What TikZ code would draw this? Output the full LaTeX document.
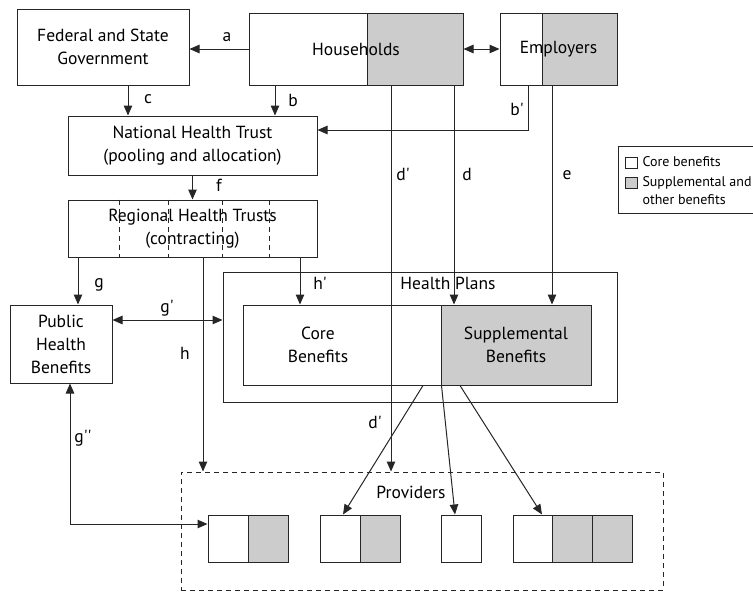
\documentclass[tikz,border=0pt]{standalone}
\usepackage{fontspec}
\setmainfont{PT Sans}
\usetikzlibrary{arrows.meta}
\newcommand{\pr}{\textquotesingle}

\begin{document}
\begin{tikzpicture}[x=1pt,y=-1pt,
  line width=1pt, draw=black!85,
  box/.style={draw, rectangle, inner sep=0pt, align=center,
    font=\fontsize{17.5}{23}\selectfont},
  shaded/.style={fill=black!20},
  cell/.style={draw, rectangle, minimum width=40, minimum height=47},
  lbl/.style={font=\fontsize{17.5}{23}\selectfont, inner sep=0pt},
  legtext/.style={font=\fontsize{14}{18}\selectfont, align=left, inner sep=0pt, anchor=west},
  arr/.style={-{Triangle[length=10pt,width=8.5pt]}},
  arrtwo/.style={{Triangle[length=10pt,width=8.5pt]}-{Triangle[length=10pt,width=8.5pt]}}]
\useasboundingbox (0,0) rectangle (753,592);
\clip (0,0) rectangle (753,592);

% Top row
\node[box, minimum width=172, minimum height=76] (fed) at (103,47) {Federal and State\\Government};
\node[box, shaded, minimum width=96, minimum height=72] (hhs) at (415,49) {};
\node[box, minimum width=214, minimum height=72] (hh) at (356,49) {Households};
\node[box, shaded, minimum width=75, minimum height=72] (emps) at (579.5,49) {};
\node[box, minimum width=117, minimum height=72] (emp) at (558.5,49) {Employers};

% Trusts
\node[box, minimum width=249, minimum height=59] (nht) at (192.5,145.5) {National Health Trust\\(pooling and allocation)};
\node[box, minimum width=249, minimum height=57] (rht) at (192.5,228.5) {Regional Health Trusts\\(contracting)};
\foreach \x in {119,168,222,269}
  \draw[dashed, dash pattern=on 5pt off 4pt] (rht.north -| \x,0) -- (rht.south -| \x,0);

% Public benefits
\node[box, minimum width=102, minimum height=78] (phb) at (61,344) {Public\\Health\\Benefits};

% Health plans
\node[box, minimum width=394, minimum height=130] (hp) at (420,337) {};
\node[lbl] (hplbl) at (448,283) {Health Plans};
\node[box, minimum width=198, minimum height=80] (core) at (342,345) {};
\node[lbl, align=center] (corelbl) at (318,345) {Core\\Benefits};
\node[box, shaded, minimum width=150, minimum height=80] (supp) at (516,345) {Supplemental\\Benefits};

% Providers
\node[draw, dashed, dash pattern=on 5pt off 4pt, rectangle, minimum width=482, minimum height=118] (prov) at (422,531) {};
\node[lbl] (provlbl) at (411,492) {Providers};
\foreach \x/\f/\n in {228/white/p1a, 268/black!20/p1b, 340/white/p2a, 380/black!20/p2b,
    461/white/p3, 533/white/p4a, 572.5/black!20/p4b, 612/black!20/p4c}
  \node[cell, fill=\f] (\n) at (\x,538.5) {};

% Legend
\node[draw, rectangle, minimum width=150, minimum height=67] (leg) at (693,179.5) {};
\node[draw, rectangle, minimum width=12, minimum height=11] (legcore) at (631,162.5) {};
\node[draw, shaded, rectangle, minimum width=12, minimum height=11] (legsupp) at (631,182.5) {};
\node[legtext] (legcorelbl) at (642,162) {Core benefits};
\node[legtext] (legsupplbl) at (642,191) {Supplemental and\\other benefits};

% Flows
\draw[arr] (hh.west) -- (hh.west -| fed.east);
\draw[arrtwo] (hh.east) -- (emp.west);
\draw[arr] (fed.south -| 128,0) -- (nht.north -| 128,0);
\draw[arr] (hh.south -| 275,0) -- (nht.north -| 275,0);
\draw[arr] (emp.south -| 528,0) |- (nht.east |- 0,130);
\draw[arr] (nht.south) -- (rht.north);
\draw[arr] (hh.south -| 391,0) -- (prov.north -| 391,0);
\draw[arr] (hh.south -| 454,0) -- (supp.north -| 454,0);
\draw[arr] (emp.south -| 552,0) -- (supp.north -| 552,0);
\draw[arr] (rht.south -| 78,0) -- (phb.north -| 78,0);
\draw[arr] (rht.south -| 203,0) -- (prov.north -| 203,0);
\draw[arr] (rht.south -| 300,0) -- (core.north -| 300,0);
\draw[arrtwo] (phb.east |- 0,320) -- (hp.west |- 0,320);
\draw[arrtwo] (phb.south -| 70,0) |- (p1a.west |- 0,524);
\draw[arr] (core.south -| 423,0) -- (p2a.north -| 343,0);
\draw[arr] (core.south east) -- (p3.north -| 455,0);
\draw[arr] (supp.south -| 460,0) -- (p4a.north -| 542,0);

% Labels
\node[lbl] (la) at (227,37) {a};
\node[lbl] (lc) at (148,99) {c};
\node[lbl] (lb) at (293,100) {b};
\node[lbl] (lbp) at (517,109) {b\pr};
\node[lbl] (ldp) at (403,174) {d\pr};
\node[lbl] (ld) at (467,174) {d};
\node[lbl] (le) at (567,175) {e};
\node[lbl] (lf) at (219,185) {f};
\node[lbl] (lg) at (99,285) {g};
\node[lbl] (lgp) at (167,308) {g\pr};
\node[lbl] (lh) at (185,353) {h};
\node[lbl] (lhp) at (320,283) {h\pr};
\node[lbl] (ldpp) at (375,422) {d\pr};
\node[lbl] (lgpp) at (83,438) {g\pr\pr};
\end{tikzpicture}
\end{document}
